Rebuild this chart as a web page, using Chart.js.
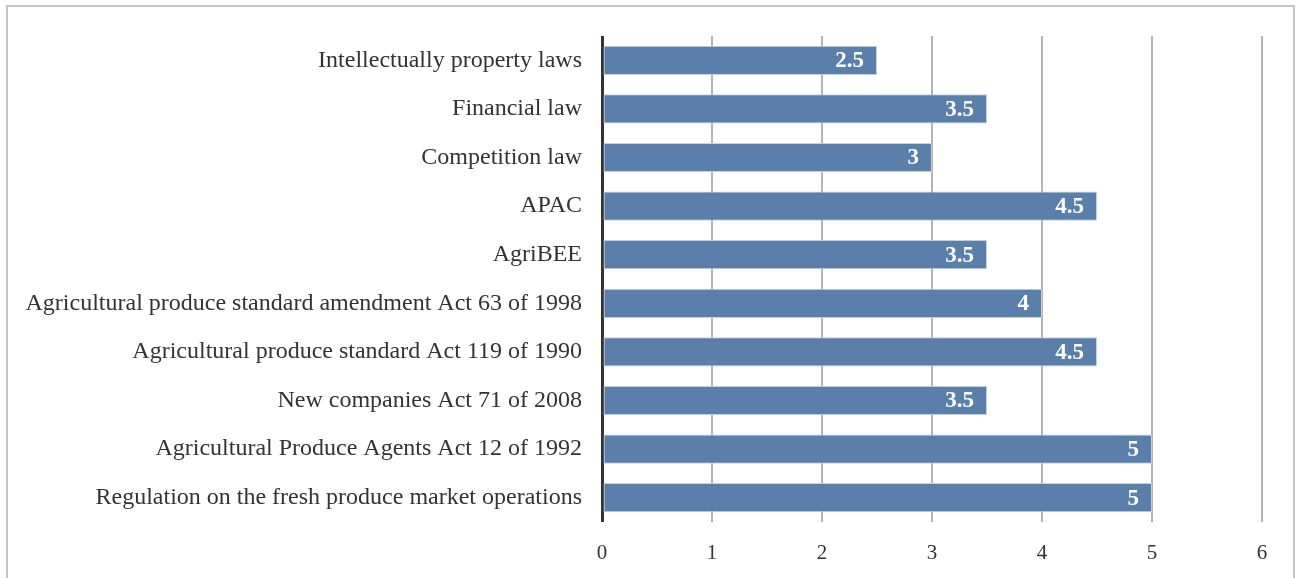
<!DOCTYPE html>
<html>
<head>
<meta charset="utf-8">
<script src="https://cdn.jsdelivr.net/npm/chart.js@4.4.0/dist/chart.umd.min.js"></script>
<style>
  html, body { margin: 0; padding: 0; background: #fff; }
  #frame {
    position: absolute; left: 6px; top: 5px; width: 1289px; height: 600px;
    border: 2px solid #c4c4c4; border-bottom: none; box-sizing: border-box;
  }
  #wrap { position: absolute; left: 0; top: 0; width: 1303px; height: 578px; }
</style>
</head>
<body>
<div id="frame"></div>
<div id="wrap"><canvas id="chartLaws"></canvas></div>
<script>
const lawLabels = [
  'Intellectually property laws',
  'Financial law',
  'Competition law',
  'APAC',
  'AgriBEE',
  'Agricultural produce standard amendment Act 63 of 1998',
  'Agricultural produce standard Act 119 of 1990',
  'New companies Act 71 of 2008',
  'Agricultural Produce Agents Act 12 of 1992',
  'Regulation on the fresh produce market operations'
];
const lawScores = [2.5, 3.5, 3, 4.5, 3.5, 4, 4.5, 3.5, 5, 5];
const xTicks = [0, 1, 2, 3, 4, 5, 6];

const serif = '"Liberation Serif", "Times New Roman", serif';

// white bold value at the inner end of each bar
const barValueLabels = {
  id: 'barValueLabels',
  afterDatasetsDraw(chart) {
    const ctx = chart.ctx;
    const meta = chart.getDatasetMeta(0);
    ctx.save();
    ctx.fillStyle = '#ffffff';
    ctx.font = 'bold 23px ' + serif;
    ctx.textAlign = 'right';
    ctx.textBaseline = 'middle';
    meta.data.forEach(function (bar, i) {
      ctx.fillText(String(lawScores[i]), bar.x - 13, bar.y + 1);
    });
    ctx.restore();
  }
};

const chartLaws = new Chart(document.getElementById('chartLaws'), {
  type: 'bar',
  data: {
    labels: lawLabels,
    datasets: [{
      data: lawScores,
      backgroundColor: '#5a7fab',
      borderColor: '#c9cfd8',
      borderWidth: 1,
      borderSkipped: false,
      barPercentage: 0.6,
      categoryPercentage: 1.0
    }]
  },
  options: {
    indexAxis: 'y',
    responsive: true,
    maintainAspectRatio: false,
    animation: false,
    layout: { padding: { top: 36, right: 41, left: 0, bottom: 0 } },
    plugins: { legend: { display: false }, tooltip: { enabled: false } },
    scales: {
      x: {
        min: 0,
        max: 6,
        afterBuildTicks(scale) { scale.ticks = xTicks.map(v => ({ value: v })); },
        afterFit(scale) { scale.height = 56; },
        border: { display: false },
        grid: {
          drawTicks: false,
          color: ctx => ctx.index === 0 ? '#333333' : '#b4b4b4',
          lineWidth: ctx => ctx.index === 0 ? 3 : 2
        },
        ticks: {
          color: '#333333',
          padding: 19,
          font: { family: serif, size: 21 }
        }
      },
      y: {
        afterFit(scale) { scale.width = 602; },
        border: { display: false },
        grid: { display: false, drawTicks: false },
        ticks: {
          color: '#333333',
          padding: 20,
          font: { family: serif, size: 24 }
        }
      }
    }
  },
  plugins: [barValueLabels]
});
</script>
</body>
</html>
